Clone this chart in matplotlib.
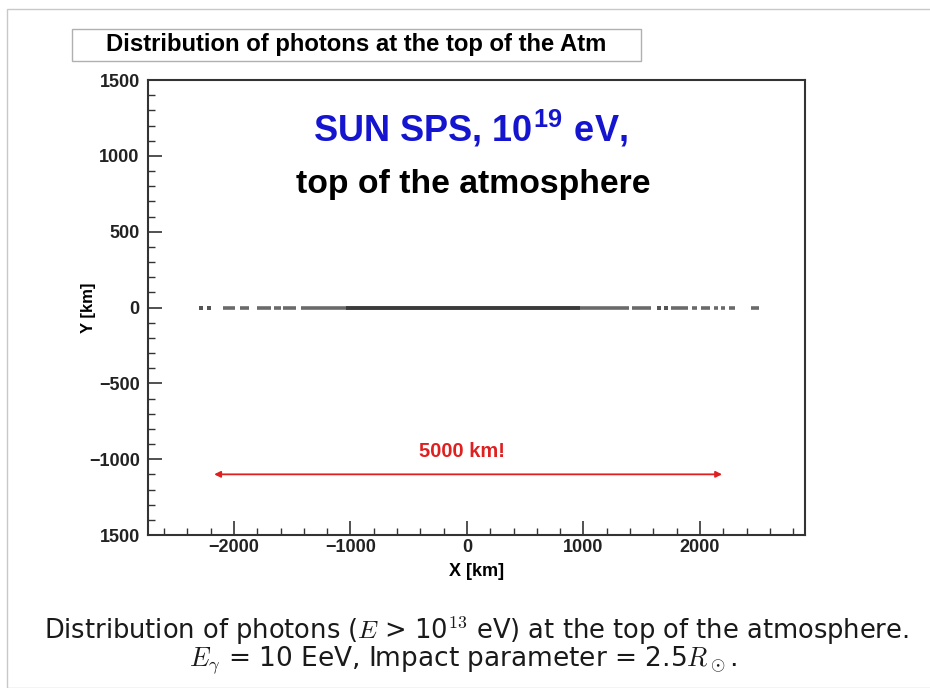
#!/usr/bin/env python3
# -*- coding: utf-8 -*-

# Distribucion de fotones en la parte alta de la atmosfera (estilo ROOT)

import matplotlib
matplotlib.use("Agg")
import matplotlib.pyplot as plt
from matplotlib.patches import Rectangle
from matplotlib.ticker import MultipleLocator

# Datos (X en km, todos los fotones en Y = 0)
tramo_denso_ini = [-1039]
tramo_denso_fin = [970]
tramos_ini = [-2094, -1948, -1803, -1657, -1579, -1425, 970, 1416, 1751, 1931, 2009, 2120, 2180, 2249, 2438]
tramos_fin = [-1991, -1871, -1682, -1597, -1468, -1039, 1391, 1579, 1897, 1974, 2086, 2155, 2215, 2300, 2506]
puntos_x = [-2283, -2215, 1648, 1708]

flecha_x = [-2170, 2190]
flecha_y = -1100

y_ticks = [-1500, -1000, -500, 0, 500, 1000, 1500]
y_etiquetas = ["1500", "\u22121000", "\u2212500", "0", "500", "1000", "1500"]
x_ticks = [-2000, -1000, 0, 1000, 2000]
x_etiquetas = ["\u22122000", "\u22121000", "0", "1000", "2000"]

fuente = "Liberation Sans"
gris_eje = "#333333"

plt.rcParams["mathtext.fontset"] = "cm"

fig = plt.figure(figsize=(9.3, 6.88), dpi=100)
ax = fig.add_axes([148 / 930, 1 - 535 / 688, (805 - 148) / 930, (535 - 80) / 688])

# fotones
ax.hlines([0] * len(tramos_ini), tramos_ini, tramos_fin, color="#6a6a6a", lw=2.6)
ax.hlines([0] * len(tramo_denso_ini), tramo_denso_ini, tramo_denso_fin, color="#3a3a3a", lw=2.8)
ax.scatter(puntos_x, [0] * len(puntos_x), s=5, marker="s", color="#555555", lw=0)

# flecha roja
ax.annotate("", xy=(flecha_x[0], flecha_y), xytext=(flecha_x[1], flecha_y),
            arrowprops=dict(arrowstyle="<|-|>", color="#e02020", lw=1.3,
                            mutation_scale=9, shrinkA=0, shrinkB=0))
ax.text(sum(flecha_x) / 2 - 50, flecha_y + 150, "5000 km!", color="#e02020",
        fontsize=14.5, fontweight="bold", family=fuente, ha="center", va="center")

# textos dentro del panel
ax.text(0.49, 0.893, "SUN SPS, 10$^{\\mathregular{19}}$ eV,", transform=ax.transAxes,
        color="#1515d0", fontsize=26, fontweight="bold", family=fuente, ha="center", va="center")
ax.text(0.495, 0.77, "top of the atmosphere", transform=ax.transAxes,
        color="black", fontsize=24.3, fontweight="bold", family=fuente, ha="center", va="center")

ax.set_xlim(-2738, 2902)
ax.set_ylim(-1500, 1500)
ax.set_xticks(x_ticks)
ax.set_xticklabels(x_etiquetas)
ax.set_yticks(y_ticks)
ax.set_yticklabels(y_etiquetas)
ax.xaxis.set_minor_locator(MultipleLocator(200))
ax.yaxis.set_minor_locator(MultipleLocator(100))
ax.tick_params(which="both", direction="in", top=False, right=False, colors=gris_eje)
ax.tick_params(which="major", length=10, width=1.2, pad=6)
ax.tick_params(axis="x", which="major", pad=3)
ax.tick_params(which="minor", length=5, width=1.0)
for lab in ax.get_xticklabels() + ax.get_yticklabels():
    lab.set_family(fuente)
    lab.set_fontweight("bold")
    lab.set_fontsize(13)
    lab.set_color("#222222")
for s in ax.spines.values():
    s.set_color(gris_eje)
    s.set_linewidth(1.5)

ax.set_xlabel("X [km]", family=fuente, fontweight="bold", fontsize=13)
ax.set_ylabel("Y [km]", family=fuente, fontweight="bold", fontsize=12)
ax.xaxis.set_label_coords(0.5, -0.062)
ax.yaxis.set_label_coords(-0.079, 0.5)

# marco del lienzo y caja del titulo
fig.patches.append(Rectangle((7 / 930, 0), 1, 1 - 9 / 688, transform=fig.transFigure,
                             fill=False, ec="#c8c8c8", lw=1.0))
fig.patches.append(Rectangle((72 / 930, 1 - 61 / 688), (641 - 72) / 930, (61 - 29) / 688,
                             transform=fig.transFigure, fill=False, ec="#b0b0b0", lw=1.0))
fig.text(356 / 930, 1 - 44 / 688, "Distribution of photons at the top of the Atm",
         family=fuente, fontweight="bold", fontsize=17.2, ha="center", va="center")

# pie de figura
fig.text(476 / 930, 1 - 631 / 688,
         "Distribution of photons ($E$ > 10$^{13}$ eV) at the top of the atmosphere.",
         family="DejaVu Sans", fontsize=18.5, ha="center", va="center", color="#1a1a1a")
fig.text(463 / 930, 1 - 660 / 688,
         "$E_\\gamma$ = 10 EeV, Impact parameter = 2.5$R_\\odot$.",
         family="DejaVu Sans", fontsize=19, ha="center", va="center", color="#1a1a1a")

fig.savefig("out.png", dpi=100)
